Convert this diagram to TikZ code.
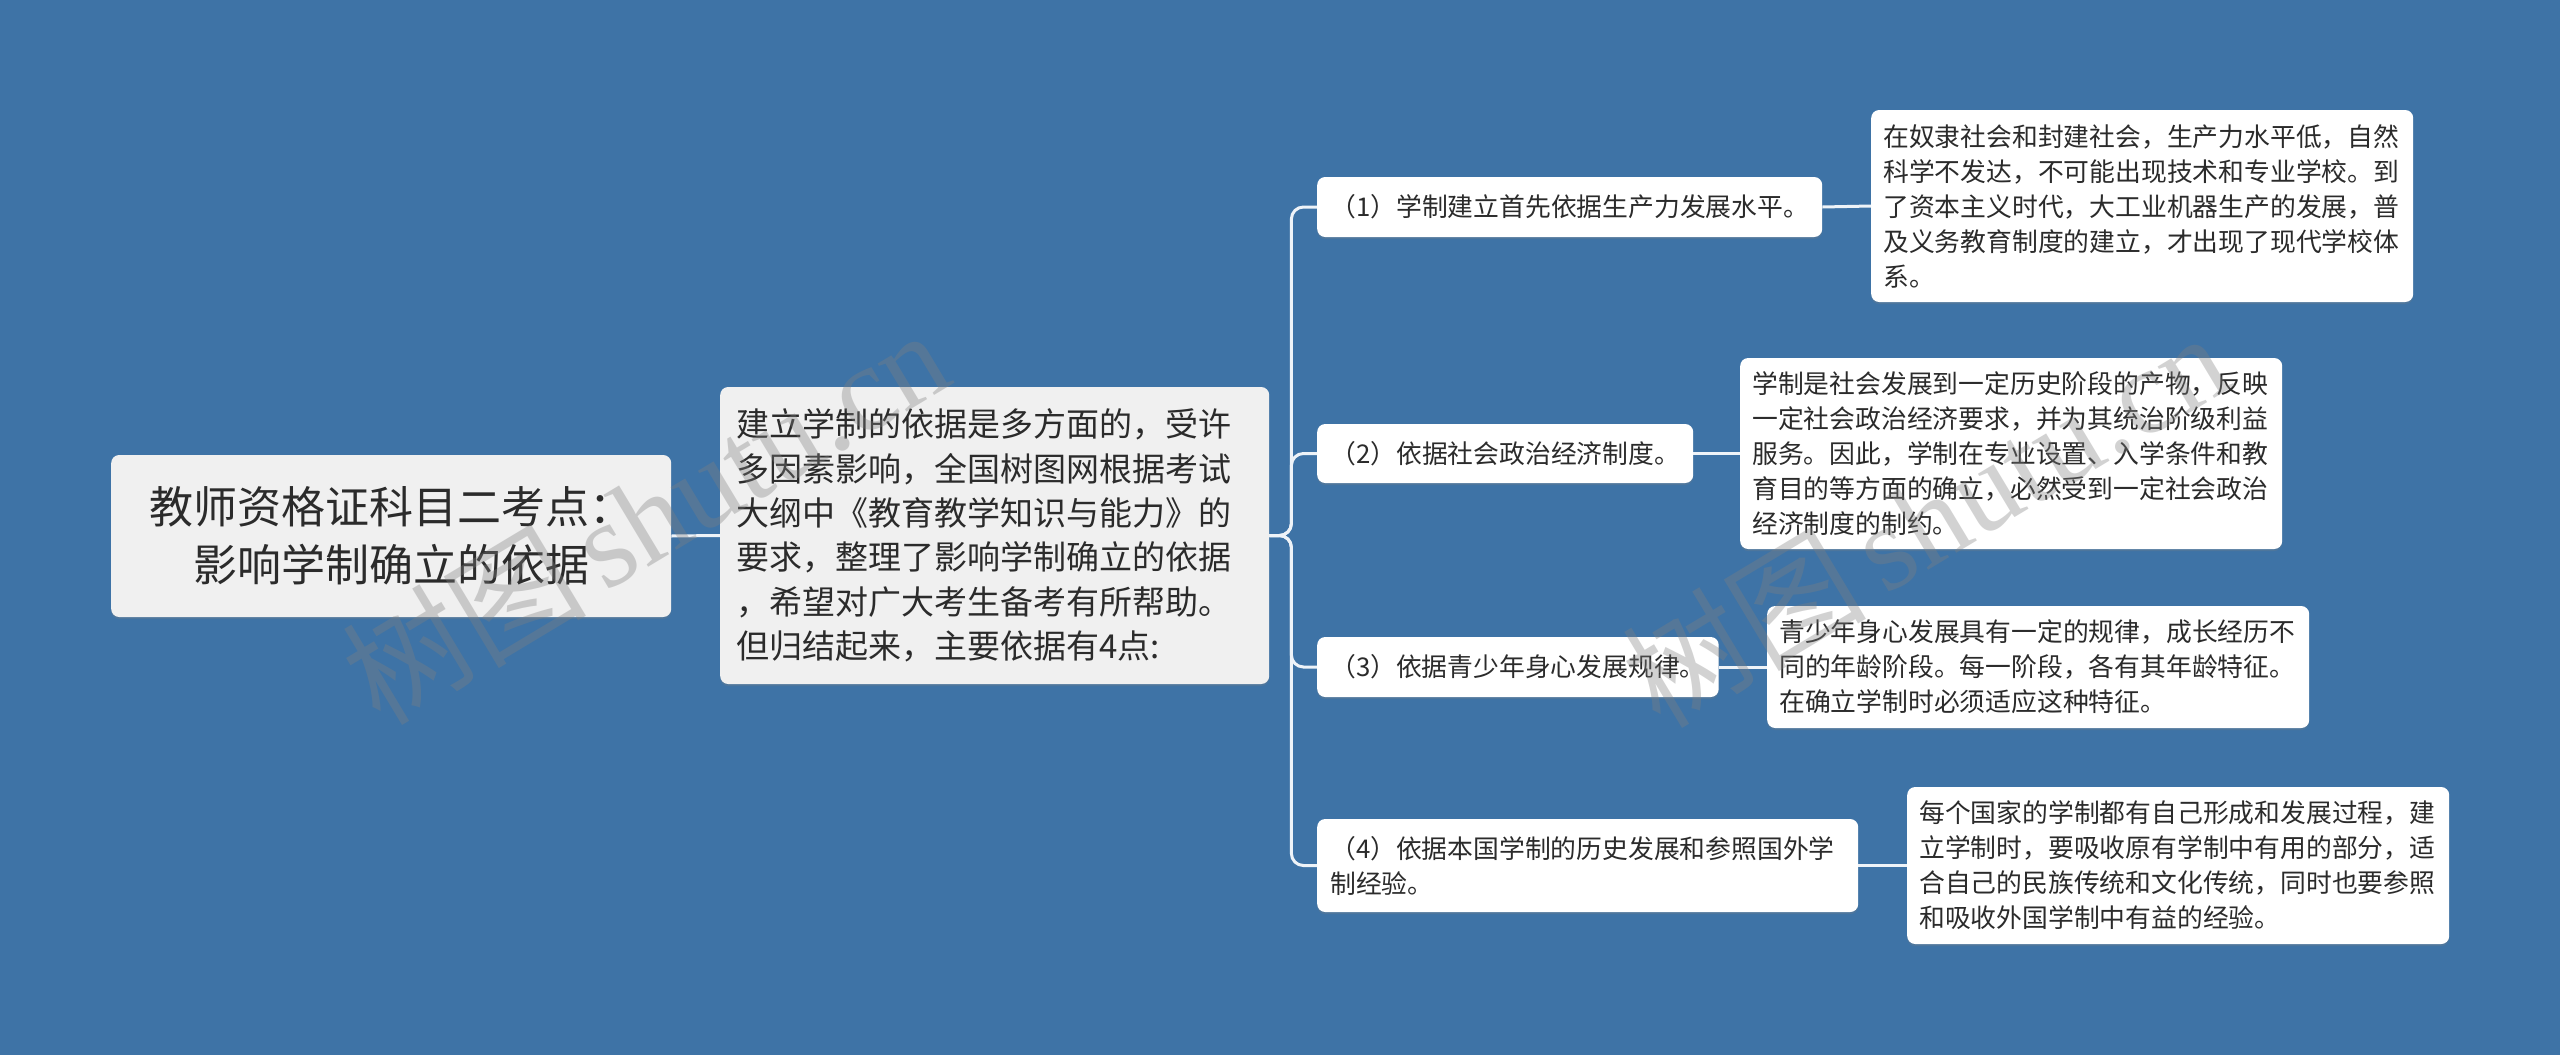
\documentclass[tikz,border=0pt]{standalone}
\usepackage{fontspec}
\setmainfont{Noto Sans CJK SC}
\newfontfamily\wmlatin{Liberation Serif}
\usetikzlibrary{shadows}
\definecolor{bgblue}{HTML}{3E73A6}
\definecolor{boxgray}{HTML}{F0F0F0}
\definecolor{txt}{HTML}{2B2B2B}
\definecolor{linkc}{HTML}{EEF3F8}
\begin{document}
\begin{tikzpicture}[x=1pt,y=-1pt,
  box/.style={rounded corners=8pt, text=txt, inner ysep=0pt, anchor=west,
    drop shadow={shadow xshift=0pt,shadow yshift=-2pt,opacity=0.25}},
  rootbox/.style={box, fill=boxgray, align=center, inner xsep=0pt,
    font=\fontsize{44}{58}\selectfont},
  introbox/.style={box, fill=boxgray, align=left, inner xsep=16pt, text width=517pt,
    font=\fontsize{33}{44.4}\selectfont},
  itembox/.style={box, fill=white, align=left, inner xsep=13pt,
    font=\fontsize{25.8}{35}\selectfont},
  notebox/.style={box, fill=white, align=left, inner xsep=12pt, text width=518pt,
    font=\fontsize{25.8}{35}\selectfont},
  link/.style={draw=linkc, line width=3pt, rounded corners=12pt},
  wm/.style={text=gray, text opacity=0.35, rotate=31, font=\fontsize{122}{122}\selectfont}
]
\fill[bgblue] (0,0) rectangle (2560,1055);
\useasboundingbox (0,0) rectangle (2560,1055);

\node[rootbox, minimum width=560pt, minimum height=162pt] (root) at (111,536)
  {教师资格证科目二考点：\\影响学制确立的依据};
\node[introbox, minimum height=297pt] (cen) at (720,535.5)
  {建立学制的依据是多方面的，受许\\多因素影响，全国树图网根据考试\\大纲中《教育教学知识与能力》的\\要求，整理了影响学制确立的依据\\，希望对广大考生备考有所帮助。\\但归结起来，主要依据有4点:};

\node[itembox, minimum width=505pt, minimum height=60pt] (b1) at (1317,207)
  {（1）学制建立首先依据生产力发展水平。};
\node[itembox, minimum width=376pt, minimum height=59pt] (b2) at (1317,453.5)
  {（2）依据社会政治经济制度。};
\node[itembox, minimum width=401pt, minimum height=60pt] (b3) at (1317,667)
  {（3）依据青少年身心发展规律。};
\node[itembox, text width=515pt, minimum height=93pt] (b4) at (1317,865.5)
  {（4）依据本国学制的历史发展和参照国外学\\制经验。};

\node[notebox, minimum height=192pt] (d1) at (1871,206)
  {在奴隶社会和封建社会，生产力水平低，自然\\科学不发达，不可能出现技术和专业学校。到\\了资本主义时代，大工业机器生产的发展，普\\及义务教育制度的建立，才出现了现代学校体\\系。};
\node[notebox, minimum height=191pt] (d2) at (1740,453.5)
  {学制是社会发展到一定历史阶段的产物，反映\\一定社会政治经济要求，并为其统治阶级利益\\服务。因此，学制在专业设置、入学条件和教\\育目的等方面的确立，必然受到一定社会政治\\经济制度的制约。};
\node[notebox, minimum height=122pt] (d3) at (1767,667)
  {青少年身心发展具有一定的规律，成长经历不\\同的年龄阶段。每一阶段，各有其年龄特征。\\在确立学制时必须适应这种特征。};
\node[notebox, minimum height=157pt] (d4) at (1907,865.5)
  {每个国家的学制都有自己形成和发展过程，建\\立学制时，要吸收原有学制中有用的部分，适\\合自己的民族传统和文化传统，同时也要参照\\和吸收外国学制中有益的经验。};

\draw[link] (root.east) -- (cen.west);
\draw[link] (cen.east) -- ++(22,0) |- (b1.west);
\draw[link] (cen.east) -- ++(22,0) |- (b2.west);
\draw[link] (cen.east) -- ++(22,0) |- (b3.west);
\draw[link] (cen.east) -- ++(22,0) |- (b4.west);
\draw[link] (b1.east) -- (d1.west);
\draw[link] (b2.east) -- (d2.west);
\draw[link] (b3.east) -- (d3.west);
\draw[link] (b4.east) -- (d4.west);

\node[wm] (wm1) at (645,515) {树图\hspace{0.15em}{\wmlatin shutu.cn}};
\node[wm] (wm2) at (1925,518) {树图\hspace{0.15em}{\wmlatin shutu.cn}};
\end{tikzpicture}
\end{document}
